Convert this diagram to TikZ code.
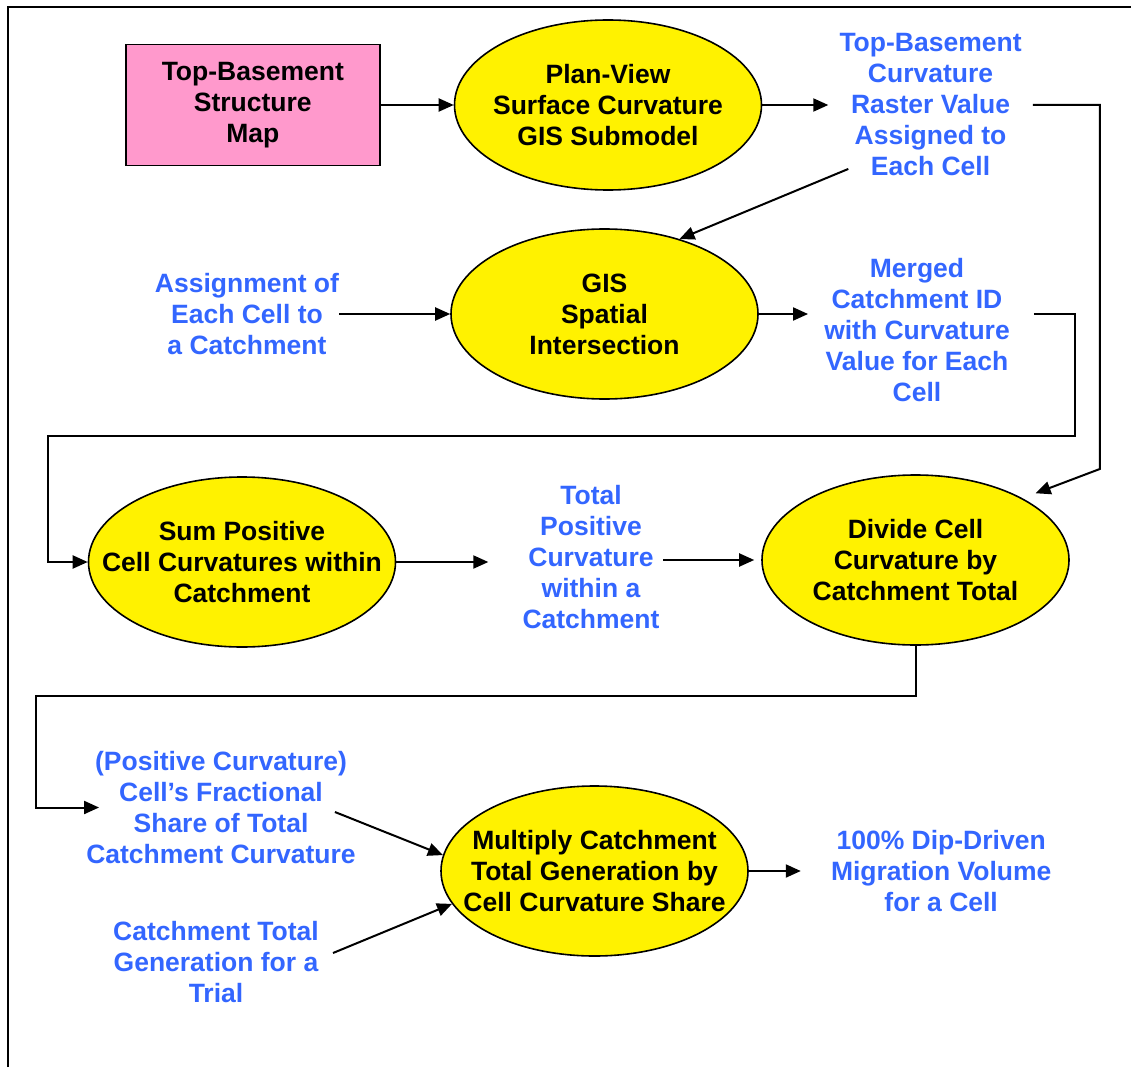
\documentclass[tikz,border=0pt]{standalone}
\usepackage{fontspec}
\setmainfont{Liberation Sans}
\usetikzlibrary{arrows.meta, positioning, shapes.geometric, calc}
\definecolor{notetext}{RGB}{51,102,255}
\definecolor{mappink}{RGB}{255,153,204}

\begin{document}
\begin{tikzpicture}[
    x=1pt, y=-1pt,
    every node/.style={font=\fontsize{26.5}{31}\selectfont\bfseries, align=center},
    proc/.style={ellipse, draw, line width=1.6pt, fill=yellow, minimum width=307pt, minimum height=170pt, inner xsep=-40pt, inner ysep=0pt},
    mapbox/.style={rectangle, draw, line width=1.8pt, fill=mappink, minimum width=254pt, minimum height=121pt},
    note/.style={text=notetext, inner sep=0pt},
    arrow/.style={-{Triangle[length=15pt, width=13pt]}, line width=2pt},
    frame/.style={line width=2.4pt}
]
\useasboundingbox (0,0) rectangle (1131,1067);
% outer frame
\draw[frame] (8,1067) -- (8,7) -- (1131,7);

% Row 1
\node[proc] (plan) at (608,105) {Plan-View\\Surface Curvature\\GIS Submodel};
\node[mapbox, left=73pt of plan] (map) {Top-Basement\\Structure\\Map};
\node[note, right=77pt of plan] (raster) {Top-Basement\\Curvature\\Raster Value\\Assigned to\\Each Cell};

% Row 2
\node[proc] (gis) at (604.5,314) {GIS\\Spatial\\Intersection};
\node[note, left=111pt of gis] (assign) {Assignment of\\Each Cell to\\a Catchment};
\node[note] (merged) at (917,330.5) {Merged\\Catchment ID\\with Curvature\\Value for Each\\Cell};

% Row 3
\node[proc] (sum) at (242,562) {Sum Positive\\Cell Curvatures within\\Catchment};
\node[note] (total) at (591,557.5) {Total\\Positive\\Curvature\\within a\\Catchment};
\node[proc] (divide) at (915.5,560) {Divide Cell\\Curvature by\\Catchment Total};

% Row 4
\node[proc] (multiply) at (594.5,871) {Multiply Catchment\\Total Generation by\\Cell Curvature Share};
\node[note] (frac) at (221,807.5) {(Positive Curvature)\\Cell’s Fractional\\Share of Total\\Catchment Curvature};
\node[note] (gen) at (216,962) {Catchment Total\\Generation for a\\Trial};
\node[note, right=82pt of multiply] (dip) {100\% Dip-Driven\\Migration Volume\\for a Cell};

% Connectors
\draw[arrow] (map) -- (plan);
\draw[arrow, shorten >=11pt] (plan) -- (raster);
\draw[arrow, shorten <=11pt, shorten >=14pt] (raster.east) -- ++(78,0) -- ++(0,364) -- (divide.30);
\draw[arrow] ($(raster.south west)+(9,-7.5)$) -- (gis.45);
\draw[arrow] (assign) -- (gis);
\draw[arrow, shorten >=16pt] (gis.east) -- (gis.east -| merged.west);
\draw[arrow, shorten <=24pt] (merged.east |- gis.east) -- ++(65,0) -- ++(0,122) -- ++(-1027,0) |- (sum.west);
\draw[arrow, shorten >=34pt] (sum.east) -- (sum.east -| total.west);
\draw[arrow, shorten <=3.5pt, shorten >=7pt] (total.east |- divide.west) -- (divide.west);
\draw[arrow] (divide.south) -- ++(0,50) -- ++(-880,0) |- ([xshift=13pt]frac.west);
\draw[arrow] ([xshift=-21pt, yshift=-4.5pt]frac.east) -- (multiply.174);
\draw[arrow] ([xshift=14pt, yshift=9pt]gen.east) -- (multiply.193);
\draw[arrow, shorten >=30pt] (multiply) -- (dip);
\end{tikzpicture}
\end{document}
